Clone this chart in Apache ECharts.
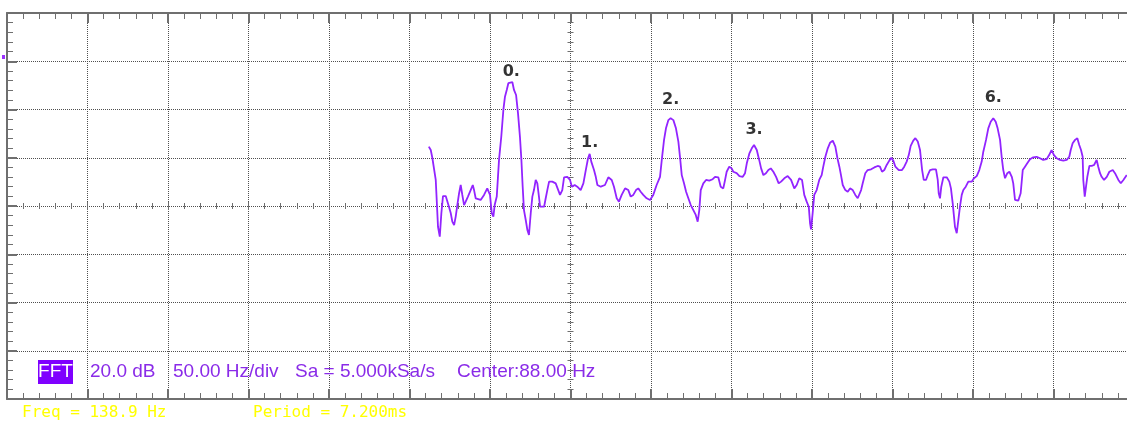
<!DOCTYPE html>
<html>
<head>
<meta charset="utf-8">
<style>
  html, body { margin: 0; padding: 0; background: #ffffff; }
  #chart { width: 1127px; height: 423px; }
</style>
<script src="https://cdn.jsdelivr.net/npm/echarts@6/dist/echarts.min.js"></script>
</head>
<body>
<div id="chart"></div>
<script>
// FFT spectrum trace: frequency (Hz) and magnitude (dB, 0 dB on the centre line)
const freqHz = [
  0, 1.2, 2.2, 3.2, 4.3, 5.3, 5.7, 6.8, 7.8, 8.8, 10.5, 11.5, 12.5, 13.6, 14.6, 15.7, 16.7, 17.7, 18.8, 19.8,
  20.8, 21.9, 22.9, 24.3, 26.0, 27.3, 28.1, 29.1, 32.2, 34.3, 36.3, 37.0, 38.0, 39.1, 40.1, 40.9, 42.2, 43.6, 45.0, 46.3,
  47.3, 48.4, 49.4, 50.4, 51.9, 52.9, 54.2, 55.4, 56.6, 57.5, 58.3, 59.1, 60.2, 61.2, 62.2, 63.3, 64.3, 65.3, 66.4, 67.4,
  68.4, 69.1, 71.6, 72.6, 73.6, 74.7, 76.7, 78.8, 79.8, 81.5, 82.9, 84.0, 86.0, 87.7, 88.9, 90.6, 92.2, 94.3, 96.0, 97.5,
  98.9, 99.9, 100.9, 102.6, 103.7, 104.7, 106.8,
  109.4, 111.5, 113.6, 115.0, 116.7, 118.1, 119.8, 121.9, 123.9, 125.4, 127.0, 128.7, 130.1, 131.6, 133.2, 135.3, 137.4,
  139.4, 141.5, 143.6, 144.7, 146.1, 147.3, 148.8, 150.2, 151.9, 153.5, 155.0, 156.0, 157.1, 158.5, 159.8, 161.2, 162.7,
  164.3, 165.8, 167.0, 168.0, 168.9, 170.5, 172.2, 174.2, 176.3, 177.8, 179.8, 181.3, 182.9, 184.0, 185.0, 186.6, 188.1,
  189.1, 191.2, 192.9, 195.0, 196.4, 197.5, 199.1, 200.6, 202.0, 203.7, 205.2, 206.4, 207.8, 209.4, 210.9, 212.4, 214.0, 215.7,
  217.3, 218.8, 220.8, 222.9, 225.0, 227.0, 228.5, 230.1, 231.8, 233.2, 234.7, 236.0, 236.8, 237.4, 238.4, 239.4, 240.9,
  242.5, 244.0, 245.0, 246.3, 247.8, 249.2, 250.9, 252.5, 253.8, 255.0, 256.0, 257.1, 258.7, 260.2, 261.6, 263.3, 264.9,
  266.4, 267.4, 268.5, 269.5, 271.1, 272.6, 274.7, 276.7, 278.8, 280.2, 281.5, 282.9, 284.4, 286.0, 287.3, 288.5, 289.8,
  291.9, 293.9, 295.3, 296.8, 298.1, 299.3, 300.9, 302.2, 303.7, 305.1, 306.4, 307.4, 308.8, 309.9, 311.3, 313.0, 315.0,
  316.1, 316.7, 317.5, 318.3, 319.6, 321.7, 323.3, 324.3,
  325.4, 326.2, 326.8, 327.9, 328.9, 329.9, 331.0, 332.0, 333.5, 335.1, 337.2, 338.6, 340.3, 341.9, 343.4, 344.4, 346.1,
  347.5, 349.0, 350.6, 352.1, 353.3, 354.8, 355.8, 356.8, 357.9, 359.3, 360.6, 362.1, 363.0, 364.1, 366.1, 367.6, 368.9,
  370.3, 371.7, 373.4, 375.4, 377.5, 379.6, 381.6, 383.7, 385.3, 386.8, 388.3, 390.0, 392.0, 394.1, 396.2, 397.8, 398.7,
  399.9, 401.4, 402.8, 404.0, 405.1, 406.1, 406.5, 407.4, 408.2, 409.0, 410.3, 411.7, 413.2, 414.8, 415.8, 416.9, 417.9,
  419.4, 421.1, 422.7, 424.8, 426.2, 428.3, 429.8, 431.4, 433.5
];
const levelDb = [
  24.6, 23.2, 19.9, 19.1, 10.8, 10.1, -8.6, -12.7, -2.9, 4.1, 4.1, 4.6, -0.3, -2.9, -6.5, -7.9, -4.4, 0.4, 5.3, 8.7,
  4.6, 0.4, 1.8, 3.9, 6.6, 8.7, 6.6, 3.2, 2.5, 4.6, 7.3, 8.0, 4.6, -3.0, -4.4, 0.4, 3.9, 19.1, 28.7, 39.8,
  45.3, 48.1, 50.9, 51.3, 51.3, 48.1, 46.0, 38.4, 28.7, 19.1, 8.0, -1.7, -5.8, -9.9, -12.0, -3.0, 3.9, 6.6, 10.8, 9.4,
  3.9, -0.3, -0.3, 3.2, 6.6, 10.1, 10.1, 9.4, 8.7, 4.6, 6.6, 11.9, 12.1, 10.8, 8.0, 8.7, 8.0, 6.6, 9.4, 14.9,
  19.8, 21.6, 18.4, 14.9, 12.1, 8.7, 8.0,
  8.7, 11.9, 10.8, 8.0, 3.2, 1.8, 4.6, 7.3, 6.6, 3.9, 4.6, 6.6, 7.3, 5.9, 4.6, 3.2, 2.5,
  4.6, 8.7, 12.1, 19.1, 27.4, 32.2, 35.6, 36.4, 35.6, 32.2, 26.7, 20.4, 12.8, 9.4, 5.9, 3.2, 0.4,
  -1.7, -3.7, -6.5, -1.7, 6.6, 9.4, 10.8, 10.5, 11.1, 12.1, 11.9, 8.0, 7.3, 10.8, 14.2, 16.3, 15.6,
  14.2, 13.6, 12.4, 12.1, 13.6, 17.7, 21.8, 23.9, 25.3, 23.2, 19.1, 15.6, 12.8, 13.6, 14.9, 15.6, 14.2, 12.1,
  9.4, 10.1, 11.5, 12.4, 10.8, 7.3, 8.7, 11.5, 10.8, 4.6, 1.8, -0.3, -7.2, -9.7, -3.0, 4.6, 6.6,
  10.8, 12.8, 16.3, 20.4, 23.9, 26.2, 27.1, 24.6, 19.8, 16.3, 12.8, 8.7, 6.6, 5.9, 7.3, 6.6, 4.6,
  3.2, 3.9, 6.6, 9.4, 13.6, 14.9, 15.2, 16.0, 16.6, 16.3, 14.2, 14.9, 17.0, 18.8, 20.0, 18.8, 16.3,
  14.9, 14.9, 16.3, 18.4, 21.1, 24.9, 27.1, 28.1, 26.7, 23.2, 14.9, 10.8, 10.8, 12.8, 14.9, 15.2, 15.2,
  10.8, 5.3, 3.2, 8.0, 11.9, 11.9, 10.1, 7.3,
  1.1, -4.4, -8.6, -11.3, -5.8, -0.3, 4.6, 6.6, 8.0, 10.1, 10.1, 11.5, 12.4, 14.9, 18.4, 22.5, 27.4,
  32.2, 34.9, 36.4, 34.9, 32.2, 27.4, 20.4, 14.9, 11.5, 13.6, 14.2, 12.1, 9.4, 2.5, 2.2, 5.3, 14.9,
  16.3, 17.7, 19.4, 20.2, 20.4, 19.8, 19.1, 19.4, 21.1, 23.2, 21.1, 19.8, 19.1, 18.8, 19.1, 20.4, 23.2,
  26.0, 27.4, 28.1, 25.3, 23.2, 20.4, 10.8, 3.9, 8.0, 12.1, 16.6, 16.6, 17.0, 19.1, 16.3, 13.6, 12.1,
  10.8, 12.1, 14.2, 14.9, 13.6, 10.8, 9.4, 10.8, 12.8
];

// Cursor markers on the harmonic peaks
const peakNames = ['0.', '1.', '2.', '3.', '6.'];
const peakHz = [51.2, 99.9, 150.2, 202.0, 350.6];
const peakDb = [51.3, 21.6, 36.4, 25.3, 36.4];

// Status line and measurement readouts
const statusItems = ['20.0 dB', '50.00 Hz/div', 'Sa = 5.000kSa/s', 'Center:88.00 Hz'];
const readouts = ['Freq = 138.9 Hz', 'Period = 7.200ms'];

// Screen scale: 14 x 8 divisions, 50 Hz and 20 dB per division, centred on 88 Hz
const HZ_MIN = -262, HZ_MAX = 438;
const DB_MIN = -80, DB_MAX = 80;

// Styling
const FRAME = '#6f6f6f';
const GRIDC = '#4f4f4f';
const TRACE = '#9224ff';
const STATUS = '#8a2be8';
const peakLabelGap = [2.5, 3, 10, 7, 12.5];
const statusX = [90, 173, 295, 457];
const readoutX = [22, 253];

const chart = echarts.init(document.getElementById('chart'), null, { renderer: 'canvas' });

const noLabel = { show: false };
const dotted = { color: GRIDC, width: 1, type: [1, 1] };

function frameAxis(position, withGrid) {
  return {
    type: 'value', position, min: 0, max: position === 'left' ? 8 : 14, interval: 1,
    axisLine: { show: true, onZero: false, lineStyle: { color: FRAME, width: 2 } },
    axisTick: { show: true, inside: true, length: 10, lineStyle: { color: FRAME, width: 2 } },
    minorTick: { show: true, splitNumber: 5, length: 6, lineStyle: { color: FRAME, width: 1 } },
    axisLabel: noLabel,
    splitLine: { show: withGrid, lineStyle: dotted },
    minorSplitLine: { show: false }
  };
}

function centreAxis(position, inside, zeroIdx, span) {
  return {
    type: 'value', position, min: -span, max: span, interval: 1,
    axisLine: { show: true, onZero: true, onZeroAxisIndex: zeroIdx, lineStyle: { opacity: 0 } },
    axisTick: { show: true, inside, length: 4, lineStyle: { color: FRAME, width: 1 } },
    minorTick: { show: true, splitNumber: 5, length: 3, lineStyle: { color: FRAME, width: 1 } },
    axisLabel: noLabel,
    splitLine: { show: false }
  };
}

const option = {
  animation: false,
  backgroundColor: '#ffffff',
  grid: { left: 7, top: 13, width: 1127, height: 386, containLabel: false, outerBoundsMode: 'none' },
  xAxis: [
    frameAxis('bottom', true),
    frameAxis('top', false),
    centreAxis('bottom', true, 1, 7),
    centreAxis('bottom', false, 1, 7),
    { type: 'value', min: HZ_MIN, max: HZ_MAX, show: false }
  ],
  yAxis: [
    frameAxis('left', true),
    centreAxis('left', true, 2, 4),
    centreAxis('left', false, 2, 4),
    { type: 'value', min: DB_MIN, max: DB_MAX, show: false }
  ],
  series: [
    {
      name: 'FFT',
      type: 'line',
      xAxisIndex: 4,
      yAxisIndex: 3,
      data: freqHz.map((f, i) => [f, levelDb[i]]),
      showSymbol: false,
      symbol: 'none',
      silent: true,
      z: 5,
      lineStyle: { color: TRACE, width: 1.8 }
    },
    {
      name: 'Markers',
      type: 'scatter',
      xAxisIndex: 4,
      yAxisIndex: 3,
      symbolSize: 0,
      silent: true,
      z: 6,
      data: peakNames.map((n, i) => ({
        value: [peakHz[i], peakDb[i]],
        name: n,
        label: { distance: peakLabelGap[i] }
      })),
      label: {
        show: true,
        position: 'top',
        formatter: p => p.name,
        color: '#000000',
        fontFamily: 'DejaVu Sans',
        fontWeight: 'bold',
        fontSize: 16
      }
    }
  ],
  graphic: [
    { type: 'rect', shape: { x: 2, y: 55, width: 3, height: 4 }, style: { fill: '#9b30ff' }, silent: true },
    { type: 'rect', shape: { x: 38, y: 360, width: 35, height: 24 }, style: { fill: '#7f00ff' }, silent: true },
    {
      type: 'text', x: 55.5, y: 372, silent: true, z: 10,
      style: { text: 'FFT', fill: '#ffffff', fontSize: 19, fontFamily: 'Liberation Sans',
               align: 'center', textAlign: 'center', verticalAlign: 'middle', textVerticalAlign: 'middle' }
    }
  ].concat(statusItems.map((t, i) => ({
    type: 'text', x: statusX[i], y: 372, silent: true, z: 10,
    style: { text: t, fill: STATUS, fontSize: 19, fontFamily: 'Liberation Sans',
             align: 'left', textAlign: 'left', verticalAlign: 'middle', textVerticalAlign: 'middle' }
  }))).concat(readouts.map((t, i) => ({
    type: 'text', x: readoutX[i], y: 413, silent: true, z: 10,
    style: { text: t, fill: '#ffff00', fontSize: 16, fontFamily: 'DejaVu Sans Mono',
             align: 'left', textAlign: 'left', verticalAlign: 'middle', textVerticalAlign: 'middle' }
  })))
};

chart.setOption(option);
</script>
</body>
</html>
